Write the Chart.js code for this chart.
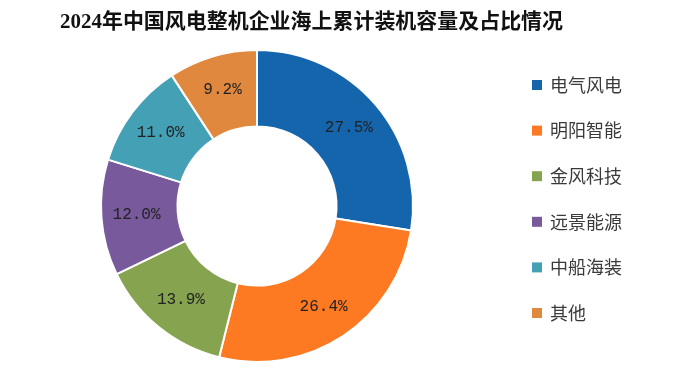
<!DOCTYPE html>
<html>
<head>
<meta charset="utf-8">
<script src="https://cdn.jsdelivr.net/npm/chart.js@4.4.0/dist/chart.umd.min.js"></script>
<style>
  html, body { margin: 0; padding: 0; background: #fff; }
  #wrap { position: relative; width: 675px; height: 371px; }
</style>
</head>
<body>
<div id="wrap"><canvas id="c" width="675" height="371"></canvas></div>
<script>
/* ── DATA ── */
const TITLE = '2024年中国风电整机企业海上累计装机容量及占比情况';
const COMPANIES = ['电气风电', '明阳智能', '金风科技', '远景能源', '中船海装', '其他'];
const SHARES = [27.5, 26.4, 13.9, 12.0, 11.0, 9.2];
const COLORS = ['#1565ad', '#fd7a22', '#86a34f', '#77599c', '#44a0b5', '#e0883e'];

/* ── TITLE + LEGEND + LABELS ── */
const decorations = {
  id: 'decorations',
  afterDatasetsDraw(chart) {
    const ctx = chart.ctx;
    ctx.save();

    // slice labels
    const meta = chart.getDatasetMeta(0);
    ctx.font = '16px "Liberation Mono", "DejaVu Sans Mono", monospace';
    ctx.fillStyle = '#222';
    ctx.textAlign = 'center';
    ctx.textBaseline = 'middle';
    meta.data.forEach((arc, i) => {
      const p = arc.getProps(['x', 'y', 'startAngle', 'endAngle', 'innerRadius', 'outerRadius'], true);
      const a = (p.startAngle + p.endAngle) / 2;
      const r = (p.innerRadius + p.outerRadius) / 2 + 3;
      ctx.fillText(SHARES[i].toFixed(1) + '%', p.x + Math.cos(a) * r, p.y + Math.sin(a) * r);
    });

    // title
    ctx.font = 'bold 21px "Liberation Serif", "Noto Sans CJK SC", serif';
    ctx.fillStyle = '#111';
    ctx.textAlign = 'left';
    ctx.fillText(TITLE, 60, 23, 503);

    // legend
    ctx.font = '18px "Noto Sans CJK SC", sans-serif';
    COMPANIES.forEach((name, i) => {
      const y = 85 + i * 45.6;
      ctx.fillStyle = COLORS[i];
      ctx.fillRect(532, y - 5, 10, 10);
      ctx.fillStyle = '#3a3a3a';
      ctx.fillText(name, 550, y);
    });
    ctx.restore();
  }
};

/* ── CHART ── */
new Chart(document.getElementById('c'), {
  type: 'doughnut',
  data: {
    labels: COMPANIES,
    datasets: [{
      data: SHARES,
      backgroundColor: COLORS,
      borderColor: '#fff',
      borderWidth: 2
    }]
  },
  options: {
    responsive: false,
    animation: false,
    cutout: '51%',
    layout: { padding: { top: 49, bottom: 8, left: 100, right: 261 } },
    plugins: {
      legend: { display: false },
      tooltip: { enabled: false }
    }
  },
  plugins: [decorations]
});
</script>
</body>
</html>
